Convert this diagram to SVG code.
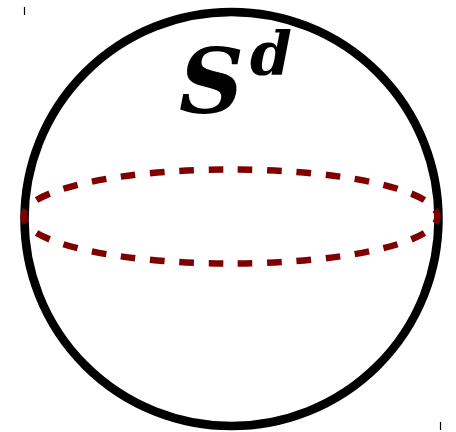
<svg xmlns="http://www.w3.org/2000/svg" width="456" height="432" viewBox="0 0 456 432">
<style>
.sphere{fill:none;stroke:#000;stroke-width:8.5}
.equator{fill:none;stroke:#800000;stroke-width:6.5;stroke-dasharray:15 15;stroke-dashoffset:7.5}
.tick{stroke:#000;stroke-width:1.2}
.lbl{font-family:"DejaVu Serif",serif;font-weight:bold;font-style:italic;fill:#000}
</style>
<rect width="456" height="432" fill="#fff"/>
<g id="marks">
<line class="tick" x1="24.5" y1="7" x2="24.5" y2="15"/>
<line class="tick" x1="440.5" y1="422" x2="440.5" y2="430"/>
</g>
<g id="sphere">
<circle class="sphere" cx="231.5" cy="219" r="207"/>
</g>
<g id="equator">
<ellipse class="equator" cx="230.5" cy="216.5" rx="207" ry="47" pathLength="900"/>
</g>
<g id="label">
<text class="lbl" x="179" y="113" font-size="90">S</text>
<text class="lbl" x="250" y="75" font-size="60">d</text>
</g>
</svg>
